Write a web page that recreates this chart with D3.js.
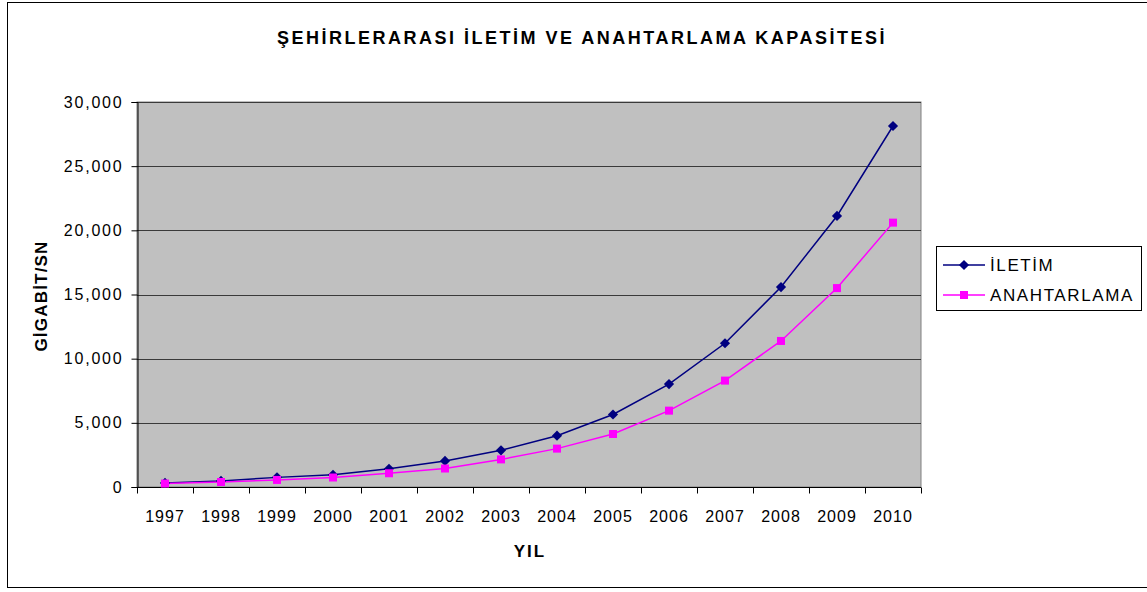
<!DOCTYPE html>
<meta charset="utf-8">
<style>
	body { margin: 0; background: #fff; }
	text { font-family: "Liberation Sans", Arial, sans-serif; }
</style>
<body>
<script src="https://d3js.org/d3.v7.min.js"></script>
<script>

	// Data
	var years = ["1997", "1998", "1999", "2000", "2001", "2002", "2003", "2004", "2005", "2006", "2007", "2008", "2009", "2010"];
	var iletim = [320, 470, 750, 950, 1420, 2030, 2860, 4000, 5650, 8020, 11200, 15580, 21120, 28130];
	var anahtarlama = [270, 390, 550, 740, 1070, 1440, 2150, 2990, 4130, 5950, 8290, 11380, 15500, 20600];
	var yTicks = [0, 5000, 10000, 15000, 20000, 25000, 30000];

	var W = 1147, H = 592;
	var plot = { left: 137, right: 921, top: 102, bottom: 487 };

	var svg = d3.select("body").append("svg")
		.attr("width", W)
		.attr("height", H);

	// outer frame
	svg.append("rect")
		.attr("x", 7.5).attr("y", 2.5)
		.attr("width", 1150).attr("height", 585)
		.attr("fill", "none")
		.attr("stroke", "#000")
		.attr("stroke-width", 1);

	var x = d3.scaleBand()
		.domain(years)
		.range([plot.left, plot.right]);

	var y = d3.scaleLinear()
		.domain([0, 30000])
		.range([plot.bottom, plot.top]);

	// plot background
	svg.append("rect")
		.attr("x", plot.left).attr("y", plot.top)
		.attr("width", plot.right - plot.left)
		.attr("height", plot.bottom - plot.top)
		.attr("fill", "#c0c0c0")
		.attr("stroke", "#808080");

	// gridlines
	svg.selectAll("line.grid")
		.data(yTicks.slice(1))
		.enter()
		.append("line")
		.attr("class", "grid")
		.attr("x1", plot.left).attr("x2", plot.right)
		.attr("y1", function(d) { return Math.round(y(d)) + 0.5; })
		.attr("y2", function(d) { return Math.round(y(d)) + 0.5; })
		.attr("stroke", "#3a3a3a")
		.attr("stroke-width", 1);

	// y axis
	var yAxis = svg.append("g")
		.attr("transform", "translate(" + (plot.left + 0.5) + ",0)")
		.call(d3.axisLeft(y).tickValues(yTicks).tickSize(6).tickPadding(8)
			.tickFormat(d3.format(",")));
	yAxis.select(".domain").attr("stroke", "#000");
	yAxis.selectAll("text")
		.attr("font-size", "16px")
		.attr("letter-spacing", "1.8px")
		.attr("fill", "#000")
		.style("font-family", "'Liberation Sans', Arial, sans-serif");

	// x axis, ticks at band boundaries
	var xAxis = svg.append("g")
		.attr("transform", "translate(0," + (plot.bottom + 0.5) + ")");
	xAxis.append("line")
		.attr("x1", plot.left).attr("x2", plot.right)
		.attr("stroke", "#000");
	var bounds = years.map(function(d) { return x(d); }).concat([x(years[years.length - 1]) + x.bandwidth()]);
	xAxis.selectAll("line.tick")
		.data(bounds)
		.enter()
		.append("line")
		.attr("class", "tick")
		.attr("x1", function(d) { return Math.round(d) + 0.5; })
		.attr("x2", function(d) { return Math.round(d) + 0.5; })
		.attr("y1", 0).attr("y2", 6)
		.attr("stroke", "#000");
	xAxis.selectAll("text")
		.data(years)
		.enter()
		.append("text")
		.attr("x", function(d) { return x(d) + x.bandwidth() / 2; })
		.attr("y", 34)
		.attr("text-anchor", "middle")
		.attr("font-size", "16px")
		.attr("letter-spacing", "1px")
		.attr("fill", "#000")
		.text(function(d) { return d; });

	// lines
	var series = [
		{ name: "İLETİM", values: iletim, color: "#000080", shape: d3.symbolSquare, size: 52, rotate: 45 },
		{ name: "ANAHTARLAMA", values: anahtarlama, color: "#ff00ff", shape: d3.symbolSquare, size: 64, rotate: 0 }
	];

	var line = d3.line()
		.x(function(d, i) { return x(years[i]) + x.bandwidth() / 2; })
		.y(function(d) { return y(d); });

	series.forEach(function(s) {
		svg.append("path")
			.datum(s.values)
			.attr("d", line)
			.attr("fill", "none")
			.attr("stroke", s.color)
			.attr("stroke-width", 1.5);
	});

	series.forEach(function(s) {
		svg.selectAll(null)
			.data(s.values)
			.enter()
			.append("path")
			.attr("d", d3.symbol().type(s.shape).size(s.size))
			.attr("transform", function(d, i) {
				return "translate(" + (x(years[i]) + x.bandwidth() / 2) + "," + y(d) + ") rotate(" + s.rotate + ")";
			})
			.attr("fill", s.color);
	});

	// title
	svg.append("text")
		.attr("x", 582).attr("y", 44)
		.attr("text-anchor", "middle")
		.attr("font-size", "18px")
		.attr("font-weight", "bold")
		.attr("letter-spacing", "2.5px")
		.attr("fill", "#000")
		.text("ŞEHİRLERARASI İLETİM VE ANAHTARLAMA KAPASİTESİ");

	// axis titles
	svg.append("text")
		.attr("transform", "translate(47,296) rotate(-90)")
		.attr("text-anchor", "middle")
		.attr("font-size", "17px")
		.attr("font-weight", "bold")
		.attr("letter-spacing", "1.2px")
		.attr("fill", "#000")
		.text("GİGABİT/SN");

	svg.append("text")
		.attr("x", 530).attr("y", 557)
		.attr("text-anchor", "middle")
		.attr("font-size", "17px")
		.attr("font-weight", "bold")
		.attr("letter-spacing", "2px")
		.attr("fill", "#000")
		.text("YIL");

	// legend
	var legend = svg.append("g");
	legend.append("rect")
		.attr("x", 936.5).attr("y", 246.5)
		.attr("width", 205).attr("height", 64)
		.attr("fill", "#fff")
		.attr("stroke", "#000");
	series.forEach(function(s, i) {
		var ly = 265 + i * 30;
		legend.append("line")
			.attr("x1", 943).attr("x2", 985)
			.attr("y1", ly).attr("y2", ly)
			.attr("stroke", s.color)
			.attr("stroke-width", 1.5);
		legend.append("path")
			.attr("d", d3.symbol().type(s.shape).size(s.size))
			.attr("transform", "translate(964," + ly + ") rotate(" + s.rotate + ")")
			.attr("fill", s.color);
		legend.append("text")
			.attr("x", 990).attr("y", ly + 6)
			.attr("font-size", "17px")
			.attr("letter-spacing", "1.6px")
			.attr("fill", "#000")
			.text(s.name);
	});

</script>
</body>
